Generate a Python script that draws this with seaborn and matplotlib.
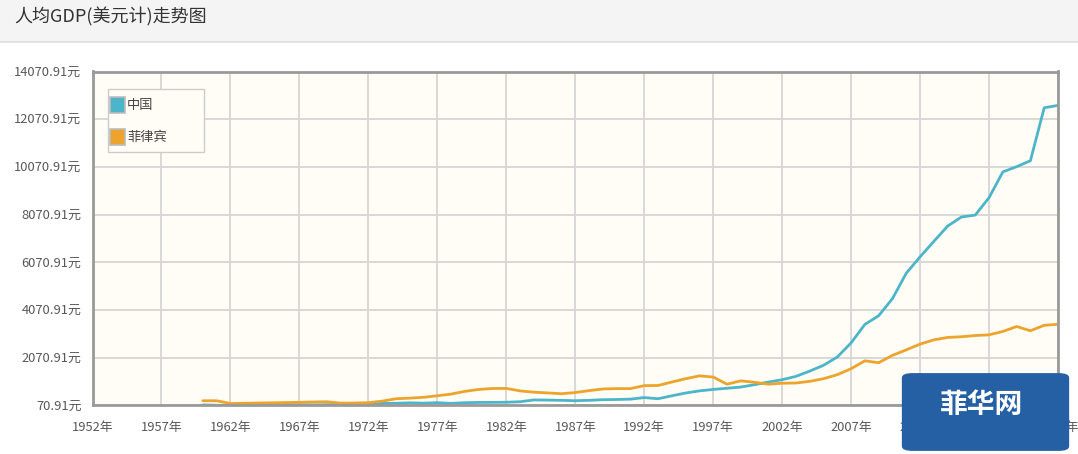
import matplotlib
matplotlib.use("Agg")
import matplotlib.pyplot as plt
import seaborn as sns
import numpy as np
import pandas as pd
from matplotlib.patches import Rectangle, FancyBboxPatch
from matplotlib.lines import Line2D

years = list(range(1960, 2023))

china = [90, 76, 71, 74, 85, 98, 104, 97, 92, 100,
         113, 119, 132, 157, 160, 178, 165, 185, 156, 184,
         195, 197, 203, 225, 300, 294, 282, 268, 283, 311,
         318, 333, 400, 350, 473, 590, 680, 740, 790, 840,
         940, 1050, 1148, 1288, 1509, 1753, 2099, 2694, 3468, 3832,
         4550, 5614, 6300, 6950, 7590, 7970, 8050, 8780, 9860, 10080,
         10330, 12550, 12650]

philippines = [265, 265, 150, 160, 170, 180, 190, 200, 215, 225,
               165, 170, 185, 250, 350, 375, 410, 475, 545, 660,
               740, 780, 783, 680, 625, 595, 560, 610, 690, 760,
               775, 775, 900, 905, 1050, 1190, 1310, 1260, 960, 1100,
               1040, 960, 1000, 1010, 1080, 1190, 1360, 1610, 1940, 1860,
               2170, 2400, 2640, 2820, 2920, 2950, 3000, 3030, 3170, 3380,
               3200, 3430, 3470]

countries = ["中国", "菲律宾"]
colors = ["#4db5c9", "#eca42c"]
x_ticks = list(range(1952, 2023, 5))
y_ticks = [70.91 + 2000 * k for k in range(8)]

df = pd.concat([
    pd.DataFrame({"year": years, "gdp": china, "country": countries[0]}),
    pd.DataFrame({"year": years, "gdp": philippines, "country": countries[1]}),
])

sns.set_style("white")
plt.rcParams["font.family"] = ["Noto Sans CJK SC", "DejaVu Sans"]

W, H = 1078, 454


def px(x, y):
    # pixel position (from top-left) -> figure fraction
    return x / W, 1 - y / H


fig = plt.figure(figsize=(W / 100, H / 100), dpi=100)
fig.patch.set_facecolor("white")

# header band
fig.patches.append(Rectangle(px(0, 42), 1, 42 / H, transform=fig.transFigure,
                             facecolor="#f4f4f4", edgecolor="none", zorder=0))
fig.add_artist(Line2D([0, 1], [1 - 42 / H, 1 - 42 / H], transform=fig.transFigure,
                      color="#dcdcdc", lw=1.2))
fig.text(*px(14, 17), "人均GDP(美元计)走势图", fontsize=13, color="#333333",
         va="center", ha="left")

ax = fig.add_axes([92.5 / W, 1 - 405.4 / H, (1058 - 92.5) / W, (405.4 - 71.5) / H])
ax.set_facecolor("#fffdf6")

sns.lineplot(data=df, x="year", y="gdp", hue="country", palette=colors,
             linewidth=2.0, ax=ax, legend=False)

ax.set_xlim(1952, 2022)
ax.set_ylim(70.91, 14070.91)
ax.set_xticks(x_ticks)
ax.set_xticklabels([f"{y}年" for y in x_ticks])
ax.set_yticks(y_ticks)
ax.set_yticklabels([f"{v:.2f}元" for v in y_ticks])
ax.set_xlabel("")
ax.set_ylabel("")
ax.grid(True, color="#d6d6d6", lw=1.3)
ax.set_axisbelow(True)
ax.tick_params(axis="both", direction="out", length=5, width=1.5, color="#999999",
               labelsize=9.3, labelcolor="#585858", pad=3)
ax.tick_params(axis="x", pad=6)
for s in ax.spines.values():
    s.set_visible(True)
    s.set_color("#9a9a9a")
    s.set_linewidth(2)

# legend box drawn by hand to match the original layout
fig.patches.append(Rectangle(px(108, 152), 96 / W, 63 / H, transform=fig.transFigure,
                             facecolor="#fffdf6", edgecolor="#cccccc", lw=1, zorder=3))
for i, (name, c) in enumerate(zip(countries, colors)):
    cy = 105 + 32 * i
    fig.patches.append(Rectangle(px(110, cy + 7.5), 15 / W, 15 / H, transform=fig.transFigure,
                                 facecolor=c, edgecolor="#bdbdbd", lw=1.2, zorder=4))
    fig.text(*px(127, cy), name, fontsize=9.5, color="#444444", va="center", ha="left",
             zorder=4)

# watermark logo
fig.patches.append(FancyBboxPatch(px(904, 450), 163 / W, 76 / H,
                                  boxstyle="round,pad=0.002,rounding_size=0.01",
                                  transform=fig.transFigure, facecolor="#2660a4",
                                  edgecolor="none", zorder=5))
fig.text(*px(982, 405), "菲华网", fontsize=20, fontweight="bold", color="white",
         ha="center", va="center", zorder=6)

fig.savefig("out.png", dpi=100)
